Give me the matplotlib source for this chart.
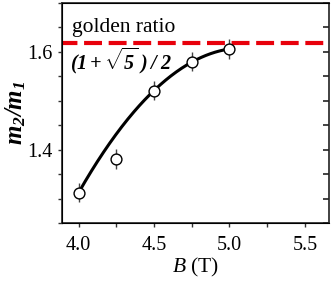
import numpy as np
import matplotlib.pyplot as plt
from matplotlib.ticker import MultipleLocator

plt.rcParams['font.family'] = ['Liberation Serif', 'DejaVu Serif']
plt.rcParams['mathtext.fontset'] = 'custom'
plt.rcParams['mathtext.rm'] = 'Liberation Serif'
plt.rcParams['mathtext.it'] = 'Liberation Serif:italic'
plt.rcParams['mathtext.bf'] = 'Liberation Serif:bold:italic'

# measured mass ratio
field = [4.0, 4.25, 4.5, 4.75, 5.0]
ratio = [1.312, 1.381, 1.521, 1.580, 1.606]
ratio_err = [0.02, 0.02, 0.02, 0.02, 0.02]

# guide curve values
fit_field = [4.0, 4.25, 4.5, 4.75, 5.0]
fit_ratio = [1.312, 1.432, 1.521, 1.579, 1.606]

golden = (1 + np.sqrt(5)) / 2
ylims = (1.25, 1.70)

fig = plt.figure(figsize=(3.35, 2.85), dpi=100)
ax = fig.add_axes([62 / 335, 1 - 223 / 285, (329 - 62) / 335, (223 - 3) / 285])

coef = np.polyfit(fit_field, fit_ratio, 2)
xs = np.linspace(fit_field[0], fit_field[-1], 200)
ax.plot(xs, np.polyval(coef, xs), color='black', lw=2.2, zorder=2)

ax.axhline(golden, color='#e8000b', lw=3, ls=(0.6, (4.3, 1.6)), zorder=3)

ax.errorbar(field, ratio, yerr=ratio_err, fmt='o', ms=7.8, mfc='white', mec='black',
            mew=1.0, ecolor='#444444', elinewidth=1.0, capsize=0, zorder=4)

ax.set_xlim(3.89, 5.66)
ax.set_ylim(*ylims)
ax.xaxis.set_major_locator(MultipleLocator(0.5))
ax.xaxis.set_minor_locator(MultipleLocator(0.25))
ax.yaxis.set_major_locator(MultipleLocator(0.2))
ax.yaxis.set_minor_locator(MultipleLocator(0.05))
ax.xaxis.set_major_formatter(plt.FormatStrFormatter('%.1f'))
ax.yaxis.set_major_formatter(plt.FormatStrFormatter('%.1f'))

ax.tick_params(which='both', direction='out', length=3, width=1, color='#333333',
               labelsize=14.5, top=False, right=False)
ax.tick_params(axis='x', which='both', pad=6)
ax.tick_params(axis='y', which='both', pad=4)
for side in ['left', 'bottom', 'right', 'top']:
    ax.spines[side].set_linewidth(1.3)
    ax.spines[side].set_color('#333333')

# right-hand ticks point inward
rax = ax.twinx()
rax.set_ylim(*ylims)
rax.yaxis.set_major_locator(MultipleLocator(0.05))
rax.yaxis.set_tick_params(which='major', direction='in', length=4, width=1.2,
                          color='#222222', right=True, labelright=False)
rax.spines['right'].set_visible(False)

ax.set_xlabel(r'$B$ (T)', fontsize=15.5, labelpad=1)
ax.set_ylabel(r'$\mathbf{m_2/m_1}$', fontsize=18, labelpad=-1)

ax.text(0.037, 0.89, 'golden ratio', transform=ax.transAxes, fontsize=15.5,
        va='center', ha='left')
ax.text(0.03, 0.735, r'$\mathbf{(1+\sqrt{5}\;)\;/\;2}$', transform=ax.transAxes,
        fontsize=14.5, va='center', ha='left')

fig.savefig('out.png', dpi=100)
